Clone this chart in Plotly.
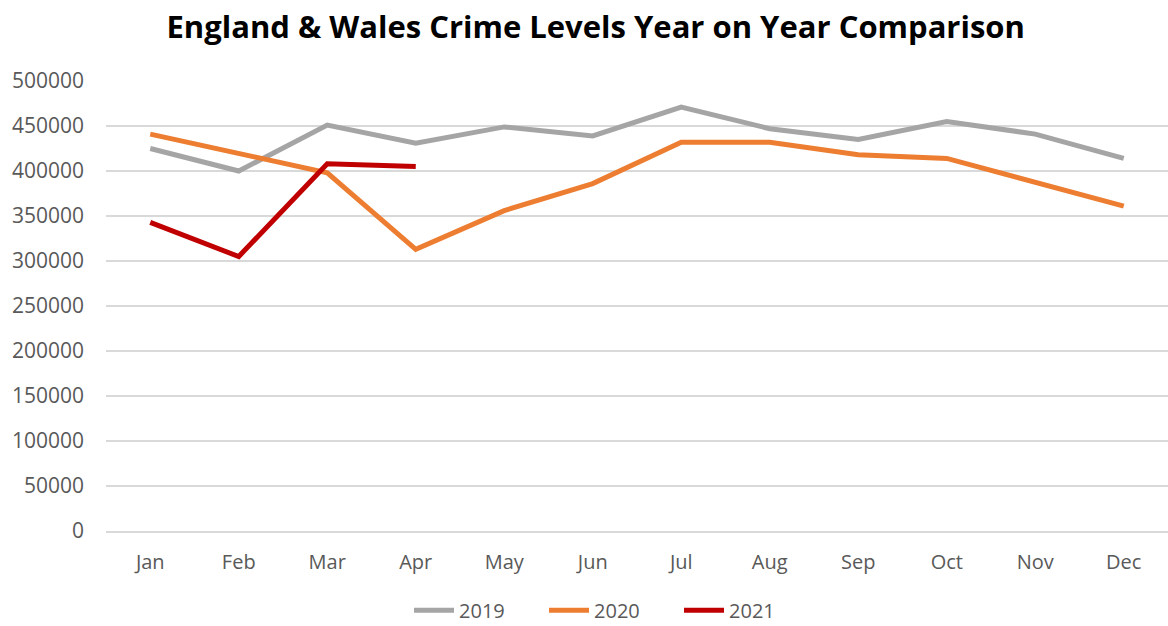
import plotly.graph_objects as go

months = ["Jan", "Feb", "Mar", "Apr", "May", "Jun", "Jul", "Aug", "Sep", "Oct", "Nov", "Dec"]
y2019 = [425000, 400000, 451000, 431000, 449000, 439000, 471000, 447000, 435000, 455000, 441000, 414000]
y2020 = [441000, 420000, 398000, 313000, 356000, 386000, 432000, 432000, 418000, 414000, 388000, 361000]
y2021 = [343000, 305000, 408000, 405000]
series_names = ["2019", "2020", "2021"]
colors = ["#a5a5a5", "#ed7d31", "#c00000"]
yticks = [0, 50000, 100000, 150000, 200000, 250000, 300000, 350000, 400000, 450000, 500000]

fig = go.Figure()
for name, vals, c in zip(series_names, [y2019, y2020, y2021], colors):
    fig.add_trace(go.Scatter(x=months[:len(vals)], y=vals, mode="lines", name=name,
                             line=dict(color=c, width=5)))

fig.update_layout(
    width=1168, height=626,
    margin=dict(l=106, r=0, t=81, b=95, autoexpand=False),
    paper_bgcolor="white", plot_bgcolor="white",
    title=dict(text="<b>England & Wales Crime Levels Year on Year Comparison</b>",
               x=0.51, xanchor="center", y=0.957, yanchor="middle",
               font=dict(family="Open Sans", size=31, color="black")),
    font=dict(family="Open Sans", color="#595959", size=20),
    xaxis=dict(type="category", categoryorder="array", categoryarray=months,
               range=[-0.5, 11.5], showgrid=False, showline=True, linecolor="#d9d9d9",
               linewidth=2, ticks="", tickfont=dict(size=20, color="#595959"), ticklabelstandoff=12),
    yaxis=dict(range=[0, 500000], tickvals=yticks, ticktext=[str(v) for v in yticks],
               showgrid=True, gridcolor="#d9d9d9", gridwidth=2, zeroline=False,
               showline=False, ticks="", tickfont=dict(size=21, color="#595959"),
               ticklabelstandoff=21),
    legend=dict(orientation="h", x=0.476, xanchor="center", y=-0.176, yanchor="middle",
                font=dict(size=20, color="#595959"), itemwidth=40, tracegroupgap=0,
                entrywidth=80, entrywidthmode="pixels"),
    showlegend=True,
)
fig.write_html("out.html")
